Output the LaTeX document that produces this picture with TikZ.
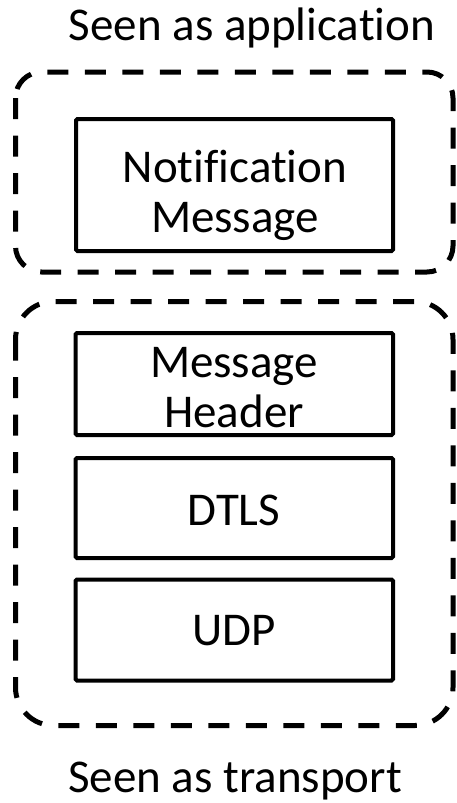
\documentclass[tikz,border=0pt]{standalone}
\usepackage{fontspec}
\setmainfont[RawFeature={-liga;-clig;-dlig}]{Carlito}
\begin{document}
\begin{tikzpicture}[x=1pt,y=-1pt,
  group/.style={draw=black, line width=5pt, dash pattern=on 21pt off 16.5pt, rounded corners=#1},
  layer/.style={draw=black, line width=4pt, rounded corners=1.5pt, inner sep=0pt},
  txt/.style={font=\fontsize{47}{50}\selectfont, inner sep=0pt, anchor=base}
]
\useasboundingbox (0,0) rectangle (456,803);
% titles
\node[txt] (tapp) at (252,40) {Seen as applicat\kern0pt ion};
\node[txt] (ttra) at (235,792) {Seen as transport};
% dashed groups
\draw[group=26pt] (15.5,72) rectangle (453,272);
\draw[group=38pt] (15.5,301.5) rectangle (453,725.5);
% layer boxes
\draw[layer] (76,119) rectangle (393,251);
\draw[layer] (75.5,333) rectangle (393,435);
\draw[layer] (75.5,458) rectangle (393,558);
\draw[layer] (75.5,579.5) rectangle (393,680.5);
% texts
\node[txt] (n1) at (235,182) {Not\kern0pt if\kern0pt icat\kern0pt ion};
\node[txt] (n2) at (235,232) {Message};
\node[txt] (h1) at (234,377) {Message};
\node[txt] (h2) at (234,427) {Header};
\node[txt] (d) at (234,525) {DTLS};
\node[txt] (u) at (234,645) {UDP};
\end{tikzpicture}
\end{document}
